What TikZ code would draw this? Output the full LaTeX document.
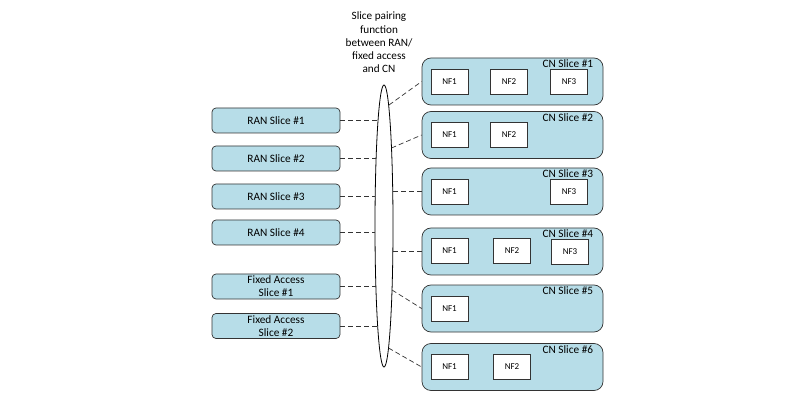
\documentclass[tikz,border=0pt]{standalone}
\usepackage{fontspec}
\setmainfont{Carlito}
\usetikzlibrary{shapes.geometric}
\definecolor{slicefill}{RGB}{183,221,232}
\begin{document}
\begin{tikzpicture}[x=1pt,y=-1pt,
  leftslice/.style={draw=black!80, fill=slicefill, rounded corners=4pt, line width=0.7pt,
    minimum width=128pt, minimum height=25pt, inner sep=0pt, align=center,
    font=\fontsize{11.3}{13}\selectfont},
  cnslice/.style={draw=black!80, fill=slicefill, rounded corners=9pt, line width=0.7pt,
    minimum width=181pt, minimum height=47pt, inner sep=0pt},
  nf/.style={draw=black!80, fill=white, line width=0.7pt, minimum width=37pt,
    minimum height=25pt, inner sep=0pt, font=\fontsize{9}{10}\selectfont},
  cnlabel/.style={anchor=north east, inner sep=0pt, font=\fontsize{11.3}{13}\selectfont},
  link/.style={dashed, dash pattern=on 5pt off 3pt, line width=0.7pt, black!80}]
\useasboundingbox (0,0) rectangle (800,403);

\node[align=center, font=\fontsize{11.2}{13.3}\selectfont] (title) at (379,42.5)
  {Slice pairing\\function\\between RAN/\\fixed access\\and CN};
\node[draw, ellipse, line width=0.8pt, minimum width=18pt, minimum height=282pt, inner sep=0pt] (pair) at (384,226) {};

% RAN / fixed access slices
\node[leftslice] (ran1) at (276,120.5) {RAN Slice \#1};
\node[leftslice] (ran2) at (276,158.5) {RAN Slice \#2};
\node[leftslice] (ran3) at (276,196.5) {RAN Slice \#3};
\node[leftslice] (ran4) at (276,232.5) {RAN Slice \#4};
\node[leftslice] (fa1) at (276,286.5) {Fixed Access\\Slice \#1};
\node[leftslice] (fa2) at (276,326) {Fixed Access\\Slice \#2};

% CN slices
\node[cnslice] (cn1) at (512.5,81.5) {};
\node[cnslice] (cn2) at (512.5,135) {};
\node[cnslice] (cn3) at (512.5,191.5) {};
\node[cnslice] (cn4) at (512.5,251.5) {};
\node[cnslice] (cn5) at (512.5,308.5) {};
\node[cnslice] (cn6) at (512.5,367) {};
\node[cnlabel] (cn1l) at ([xshift=-10pt,yshift=-2pt]cn1.north east) {CN Slice \#1};
\node[cnlabel] (cn2l) at ([xshift=-10pt,yshift=-2pt]cn2.north east) {CN Slice \#2};
\node[cnlabel] (cn3l) at ([xshift=-10pt,yshift=-2pt]cn3.north east) {CN Slice \#3};
\node[cnlabel] (cn4l) at ([xshift=-10pt,yshift=-2pt]cn4.north east) {CN Slice \#4};
\node[cnlabel] (cn5l) at ([xshift=-10pt,yshift=-2pt]cn5.north east) {CN Slice \#5};
\node[cnlabel] (cn6l) at ([xshift=-10pt,yshift=-2pt]cn6.north east) {CN Slice \#6};

% network functions
\node[nf] (nf11) at (449.5,81.5) {NF1};
\node[nf] (nf12) at (509,81.5) {NF2};
\node[nf] (nf13) at (569,81.5) {NF3};
\node[nf] (nf21) at (449.5,134.5) {NF1};
\node[nf] (nf22) at (509,134.5) {NF2};
\node[nf] (nf31) at (449.5,191.5) {NF1};
\node[nf] (nf33) at (569,191.5) {NF3};
\node[nf] (nf41) at (449.5,250.5) {NF1};
\node[nf] (nf42) at (512,251) {NF2};
\node[nf] (nf43) at (570,251.5) {NF3};
\node[nf] (nf51) at (449.5,308.5) {NF1};
\node[nf] (nf61) at (449.5,366.5) {NF1};
\node[nf] (nf62) at (512,366.5) {NF2};

% points on the pairing function
\coordinate (pl1) at (378,120.5);
\coordinate (pl2) at (376,158.5);
\coordinate (pl3) at (375,196.5);
\coordinate (pl4) at (375,232.5);
\coordinate (pl5) at (376,286.5);
\coordinate (pl6) at (378,326);
\coordinate (pr1) at (389,105);
\coordinate (pr2) at (391.5,148);
\coordinate (pr3) at (393,191.5);
\coordinate (pr4) at (393,251.5);
\coordinate (pr5) at (392,290);
\coordinate (pr6) at (388.5,348);

\draw[link] (ran1.east)--(pl1);
\draw[link] (ran2.east)--(pl2);
\draw[link] (ran3.east)--(pl3);
\draw[link] (ran4.east)--(pl4);
\draw[link] (fa1.east)--(pl5);
\draw[link] (fa2.east)--(pl6);
\draw[link] (pr1)--(cn1.west);
\draw[link] (pr2)--(cn2.west);
\draw[link] (pr3)--(cn3.west);
\draw[link] (pr4)--(cn4.west);
\draw[link] (pr5)--(cn5.west);
\draw[link] (pr6)--(cn6.west);
\end{tikzpicture}
\end{document}
